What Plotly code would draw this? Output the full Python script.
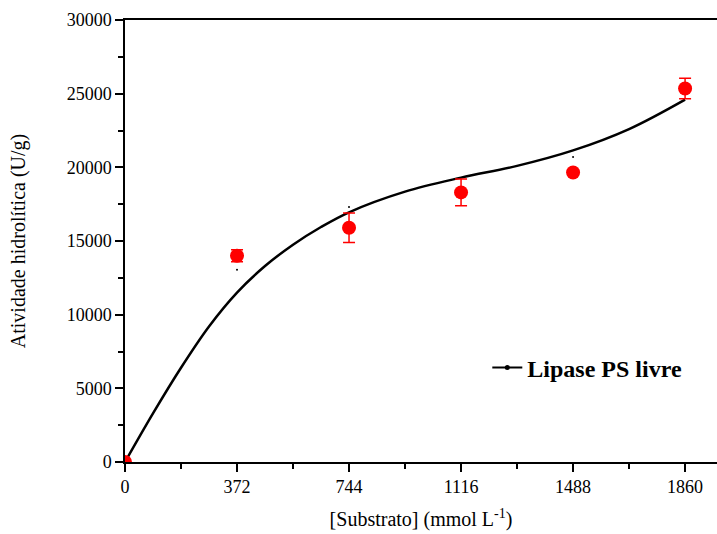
import plotly.graph_objects as go

# Data
substrate = [0, 372, 744, 1116, 1488, 1860]
activity = [0, 14000, 15900, 18300, 19650, 25350]
activity_err = [0, 400, 1000, 900, 150, 700]

fit_x = [0, 93, 186, 279, 372, 465, 558, 651, 744, 930, 1116, 1302, 1488, 1674, 1860]
fit_y = [0, 3300, 6400, 9200, 11500, 13300, 14750, 15950, 16950, 18350, 19300, 20100, 21150, 22600, 24600]

dot_x = [372, 744, 1488]
dot_y = [13050, 17300, 20700]

x_ticks = [0, 372, 744, 1116, 1488, 1860]
y_ticks = [0, 5000, 10000, 15000, 20000, 25000, 30000]

FONT = "Liberation Serif"

fig = go.Figure()

fig.add_trace(go.Scatter(
    x=fit_x, y=fit_y, mode="lines", line=dict(color="black", width=2.5, shape="spline", smoothing=1.0),
    showlegend=False, hoverinfo="skip"))

fig.add_trace(go.Scatter(
    x=dot_x, y=dot_y, mode="markers", marker=dict(color="black", size=2),
    showlegend=False, hoverinfo="skip"))

fig.add_trace(go.Scatter(
    x=substrate, y=activity, mode="markers",
    marker=dict(color="red", size=14, line=dict(width=0)),
    error_y=dict(type="data", array=activity_err, color="red", thickness=1.5, width=6),
    showlegend=False))

fig.add_trace(go.Scatter(
    x=[None], y=[None], mode="lines+markers", name="Lipase PS livre",
    line=dict(color="black", width=2), marker=dict(color="black", size=5)))

fig.update_layout(
    width=717, height=534,
    margin=dict(l=125, r=0, t=20, b=72),
    paper_bgcolor="white", plot_bgcolor="white",
    font=dict(family=FONT, size=18, color="black"),
    legend=dict(x=0.612, y=0.213, xanchor="left", yanchor="middle",
                font=dict(family=FONT, size=24, color="black", weight="bold"),
                bgcolor="rgba(0,0,0,0)"),
)

fig.update_xaxes(
    range=[0, 1966], tickvals=x_ticks, ticktext=[str(v) for v in x_ticks],
    ticks="outside", ticklen=8, tickwidth=1.5, tickcolor="black",
    minor=dict(ticks="outside", ticklen=5, tickwidth=1.5, tickcolor="black", dtick=186, tick0=0),
    showline=True, linecolor="black", linewidth=1.5, mirror=True,
    showgrid=False, zeroline=False,
    tickfont=dict(family=FONT, size=18),
    title=dict(text="[Substrato] (mmol L<sup>-1</sup>)", font=dict(family=FONT, size=20), standoff=16),
)

fig.update_yaxes(
    range=[0, 30000], tickvals=y_ticks, ticktext=[str(v) for v in y_ticks],
    ticks="outside", ticklen=8, tickwidth=1.5, tickcolor="black",
    minor=dict(ticks="outside", ticklen=5, tickwidth=1.5, tickcolor="black", dtick=2500, tick0=0),
    showline=True, linecolor="black", linewidth=1.5, mirror=False,
    showgrid=False, zeroline=False,
    tickfont=dict(family=FONT, size=18),
    title=dict(text="Atividade hidrolítica (U/g)", font=dict(family=FONT, size=20), standoff=36),
)

fig.write_html("out.html")
